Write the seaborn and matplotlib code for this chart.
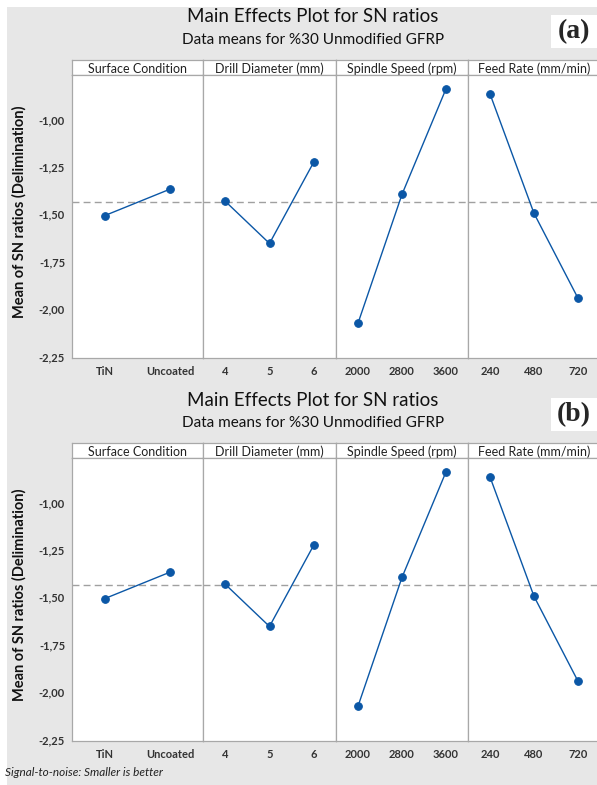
import pandas as pd
import matplotlib
matplotlib.use("Agg")
import matplotlib.pyplot as plt
import seaborn as sns
from matplotlib.ticker import FuncFormatter
from matplotlib.patches import Rectangle

# ------------------------------------------------------------
# Data (SN ratios, delimination)
# ------------------------------------------------------------
factors = ["Surface Condition", "Drill Diameter (mm)",
           "Spindle Speed (rpm)", "Feed Rate (mm/min)"]
surface_levels = ["TiN", "Uncoated"]
surface_sn = [-1.507, -1.367]
diameter_levels = ["4", "5", "6"]
diameter_sn = [-1.431, -1.654, -1.224]
speed_levels = ["2000", "2800", "3600"]
speed_sn = [-2.075, -1.395, -0.838]
feed_levels = ["240", "480", "720"]
feed_sn = [-0.865, -1.495, -1.943]
grand_mean = -1.436
y_ticks = [-1.00, -1.25, -1.50, -1.75, -2.00, -2.25]

level_lists = [surface_levels, diameter_levels, speed_levels, feed_levels]
sn_lists = [surface_sn, diameter_sn, speed_sn, feed_sn]

rows = []
for f, lv, sn in zip(factors, level_lists, sn_lists):
    for l, v in zip(lv, sn):
        rows.append({"factor": f, "level": l, "sn": v})
df = pd.DataFrame(rows)

sns.set_style("white")
plt.rcParams["font.family"] = ["Lato", "DejaVu Sans"]

W, H = 597, 785
bg = "#e7e7e7"
edge = "#a8a8a8"
blue = "#0b57a6"

fig = plt.figure(figsize=(W / 100, H / 100), dpi=100)
fig.patch.set_facecolor("white")
fig.patches.append(Rectangle((7 / W, 0), 1, 1 - 7 / H, transform=fig.transFigure,
                             facecolor=bg, edgecolor="none", zorder=-10))


def rect(x0, y0, x1, y1):
    return [x0 / W, 1 - y1 / H, (x1 - x0) / W, (y1 - y0) / H]


def comma(v, pos):
    return f"{v:.2f}".replace(".", ",")


edges_x = [72, 203, 336, 468, 600]

for copy, tag in enumerate(["(a)", "(b)"]):
    off = copy * 383

    fig.text(313 / W, 1 - (17 + off) / H, "Main Effects Plot for SN ratios",
             ha="center", va="center", fontsize=13.5, color="#111111")
    fig.text(313 / W, 1 - (40 + off) / H, "Data means for %30 Unmodified GFRP",
             ha="center", va="center", fontsize=11, color="#111111")

    # white box with panel tag
    fig.patches.append(Rectangle((551 / W, 1 - (48 + off) / H), 46 / W, 33 / H,
                                 transform=fig.transFigure, facecolor="white",
                                 edgecolor="none", zorder=-5))
    fig.text(574 / W, 1 - (32 + off) / H, tag, ha="center", va="center",
             fontsize=20, fontweight="bold", family="Liberation Serif")

    fig.text(19 / W, 1 - (212 + off) / H, "Mean of SN ratios (Delimination)",
             rotation=90, ha="center", va="center", fontsize=10.5,
             fontweight="bold", color="#111111")

    for i, f in enumerate(factors):
        x0, x1 = edges_x[i], edges_x[i + 1]

        # header strip
        hax = fig.add_axes(rect(x0, 60 + off, x1, 75 + off))
        hax.set_facecolor("white")
        hax.set_xticks([])
        hax.set_yticks([])
        for s in hax.spines.values():
            s.set_color(edge)
            s.set_linewidth(0.9)
        hax.text(0.5, 0.42, f, ha="center", va="center", fontsize=9,
                 color="#222222", transform=hax.transAxes)

        ax = fig.add_axes(rect(x0, 75 + off, x1, 357.7 + off))
        sub = df[df["factor"] == f]
        n = len(sub)
        ax.axhline(grand_mean, color="#a0a0a0", linestyle=(0, (5, 3)),
                   linewidth=1, zorder=1)
        sns.pointplot(data=sub, x="level", y="sn", ax=ax, color=blue,
                      markers="o", markersize=5.5, linewidth=1, errorbar=None,
                      order=list(sub["level"]))
        ax.set_xlim(-0.5, n - 0.5)
        ax.set_ylim(-2.257, -0.765)
        ax.set_xlabel("")
        ax.set_ylabel("")
        ax.set_facecolor("white")
        for s in ax.spines.values():
            s.set_visible(True)
            s.set_color(edge)
            s.set_linewidth(0.9)
        ax.tick_params(axis="x", length=3, color=edge, labelsize=8,
                       labelcolor="#333333", pad=3, direction="out")
        for t in ax.get_xticklabels():
            t.set_fontweight("bold")
        ax.set_yticks(y_ticks)
        if i == 0:
            ax.yaxis.set_major_formatter(FuncFormatter(comma))
            ax.tick_params(axis="y", length=3, color=edge, labelsize=8,
                           labelcolor="#333333", pad=2, direction="out")
            for t in ax.get_yticklabels():
                t.set_fontweight("bold")
        else:
            ax.tick_params(axis="y", left=False, labelleft=False)

fig.text(5 / W, 1 - 772 / H, "Signal-to-noise: Smaller is better",
         ha="left", va="center", fontsize=8.5, style="italic", color="#222222")

fig.savefig("out.png", dpi=100, facecolor=fig.get_facecolor())
